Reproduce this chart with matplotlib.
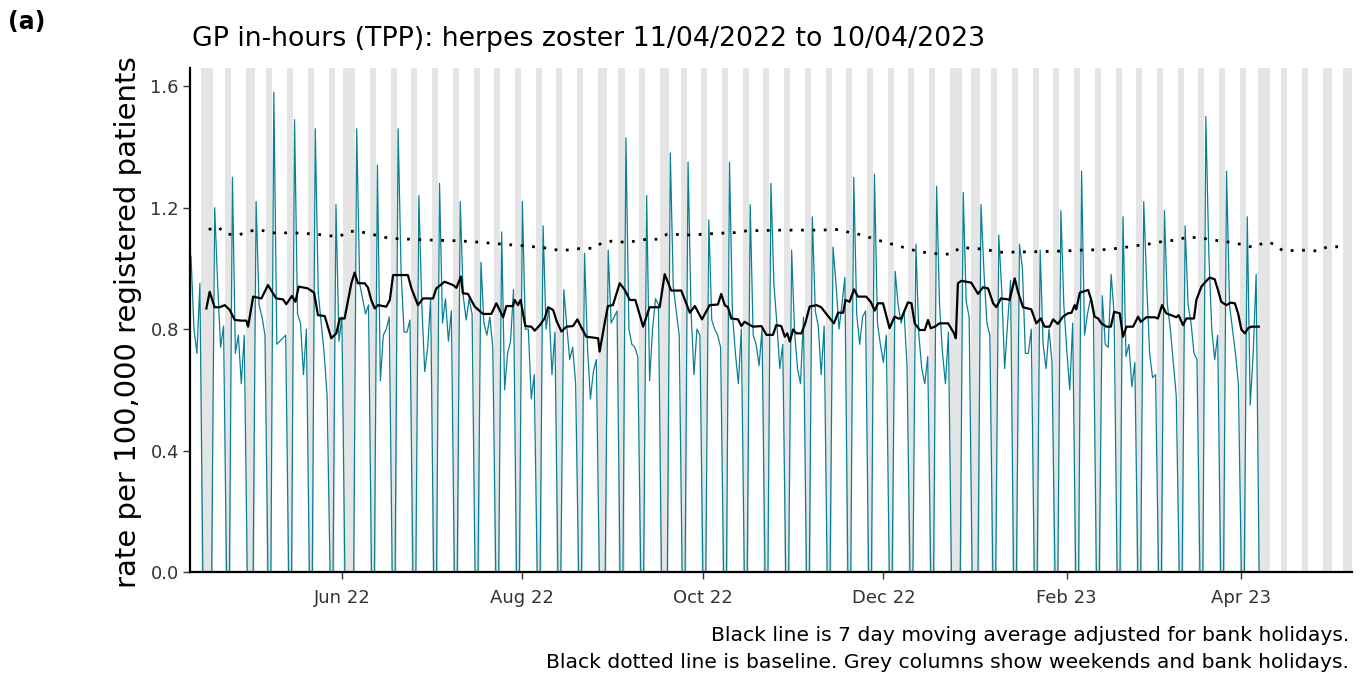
import numpy as np
import pandas as pd
import matplotlib
matplotlib.use("Agg")
import matplotlib.pyplot as plt
import matplotlib.dates as mdates

plt.rcParams['font.family'] = ['DejaVu Sans']

start = pd.Timestamp('2022-04-11')
end = pd.Timestamp('2023-04-10')
shade_end = pd.Timestamp('2023-05-08')

bank_holidays = pd.to_datetime([
    '2022-04-15', '2022-04-18', '2022-05-02', '2022-06-02', '2022-06-03',
    '2022-08-29', '2022-09-19', '2022-12-26', '2022-12-27', '2023-01-02',
    '2023-04-07', '2023-04-10', '2023-05-01', '2023-05-08',
])

# daily rate on working days, one list per week (weekends / bank holidays are 0)
weekly_rates = [
    [1.04, 0.80, 0.72, 0.95],
    [1.20, 0.95, 0.74, 0.81],
    [1.30, 0.72, 0.78, 0.62, 0.78],
    [1.22, 0.88, 0.84, 0.78],
    [1.58, 0.75, 0.76, 0.77, 0.78],
    [1.49, 0.85, 0.82, 0.65, 0.80],
    [1.46, 0.92, 0.82, 0.72, 0.58],
    [1.21, 0.76, 0.84],
    [1.46, 0.95, 0.90, 0.85, 0.88],
    [1.34, 0.63, 0.78, 0.80, 0.84],
    [1.46, 0.99, 0.79, 0.79, 0.83],
    [1.24, 0.88, 0.66, 0.74, 0.90],
    [1.28, 0.82, 0.90, 0.76, 0.86],
    [1.22, 0.91, 0.83, 0.90, 0.85],
    [1.02, 0.82, 0.78, 0.84, 0.74],
    [1.12, 0.60, 0.72, 0.76, 0.93],
    [1.22, 0.80, 0.80, 0.57, 0.65],
    [1.14, 0.80, 0.87, 0.65, 0.79],
    [0.93, 0.81, 0.70, 0.74, 0.62],
    [1.05, 0.74, 0.57, 0.66, 0.70],
    [1.06, 0.82, 0.84, 0.86],
    [1.43, 0.80, 0.75, 0.74, 0.71],
    [1.24, 0.63, 0.80, 0.90, 0.88],
    [1.38, 0.94, 0.86, 0.78],
    [1.35, 0.86, 0.65, 0.80, 0.78],
    [1.16, 0.83, 0.80, 0.78, 0.74],
    [1.35, 0.85, 0.72, 0.62, 0.80],
    [1.21, 0.78, 0.75, 0.68, 0.80],
    [1.28, 0.95, 0.82, 0.67, 0.75],
    [1.06, 0.79, 0.67, 0.62, 0.84],
    [1.17, 0.86, 0.81, 0.65, 0.81],
    [1.07, 0.95, 0.80, 0.88, 0.97],
    [1.30, 0.85, 0.75, 0.84, 0.86],
    [1.31, 0.82, 0.75, 0.69, 0.78],
    [0.99, 0.88, 0.82, 0.86, 0.68],
    [1.08, 0.78, 0.67, 0.62, 0.71],
    [1.27, 0.88, 0.72, 0.62, 0.79],
    [1.25, 0.89, 0.84],
    [1.21, 0.99, 0.82, 0.78],
    [1.11, 0.93, 0.67, 0.82, 0.96],
    [1.08, 1.00, 0.72, 0.72, 0.80],
    [1.06, 0.75, 0.67, 0.80, 0.69],
    [1.19, 0.88, 0.73, 0.60, 0.82],
    [1.32, 0.78, 0.85, 0.90, 0.85],
    [0.91, 0.75, 0.74, 0.98, 0.85],
    [1.17, 0.71, 0.75, 0.61, 0.69],
    [1.22, 0.95, 0.72, 0.64, 0.65],
    [1.19, 0.88, 0.80, 0.69, 0.58],
    [1.14, 0.88, 0.82, 0.72, 0.70],
    [1.50, 1.05, 0.80, 0.70, 0.78],
    [1.32, 0.88, 0.80, 0.72, 0.62],
    [1.17, 0.55, 0.72, 0.98],
]

# baseline (days after start)
baseline_day = [6, 9, 12, 16, 20, 23, 27, 35, 42, 50,
                53, 56, 60, 67, 74, 82, 90, 98, 105, 113,
                121, 125, 132, 136, 139, 143, 147, 154, 158, 161,
                169, 177, 184, 188, 200, 212, 219, 223, 227, 231,
                234, 238, 242, 246, 253, 257, 260, 267, 271, 274,
                286, 294, 301, 309, 313, 317, 321, 325, 329, 333,
                336, 340, 344, 348, 352, 356, 359, 363, 366, 369,
                377, 381, 384, 390]
baseline_rate = [1.128, 1.137, 1.113, 1.110, 1.123, 1.128, 1.117, 1.117, 1.113, 1.104,
                 1.121, 1.123, 1.115, 1.099, 1.096, 1.093, 1.091, 1.086, 1.080, 1.074,
                 1.066, 1.058, 1.066, 1.066, 1.085, 1.091, 1.085, 1.096, 1.096, 1.113,
                 1.110, 1.115, 1.118, 1.124, 1.126, 1.126, 1.128, 1.117, 1.110, 1.096,
                 1.088, 1.077, 1.066, 1.055, 1.047, 1.047, 1.069, 1.064, 1.058, 1.053,
                 1.055, 1.057, 1.060, 1.062, 1.066, 1.071, 1.077, 1.082, 1.090, 1.093,
                 1.101, 1.102, 1.096, 1.090, 1.085, 1.077, 1.069, 1.086, 1.081, 1.058,
                 1.060, 1.057, 1.071, 1.071]

# 7 day moving average (days after start)
ma_day = [5.2, 6.3, 8.0, 9.7, 11.4, 13.1, 14.8, 17.0, 18.7, 19.3,
          21.0, 23.8, 26.0, 28.8, 31.1, 32.2, 34.1, 35.3, 36.4, 39.5,
          41.6, 42.9, 45.2, 47.4, 49.1, 50.3, 51.9, 54.2, 55.3, 56.4,
          58.7, 59.8, 60.9, 62.1, 63.2, 66.0, 67.2, 68.3, 73.3, 74.5,
          76.7, 78.4, 81.8, 82.9, 85.7, 88.6, 89.7, 91.2, 91.9, 93.6,
          95.9, 98.7, 101.5, 103.2, 105.5, 106.6, 108.8, 109.4, 110.5, 111.4,
          113.0, 115.0, 116.2, 117.9, 119.5, 120.7, 122.4, 123.5, 125.2, 126.9,
          129.1, 130.6, 131.9, 133.6, 137.6, 138.1, 139.8, 140.9, 142.6, 144.9,
          146.6, 148.3, 150.2, 152.8, 155.0, 158.4, 160.1, 162.3, 165.7, 168.6,
          170.3, 172.7, 175.3, 178.1, 179.2, 180.4, 181.5, 182.6, 184.9, 186.0,
          187.1, 189.9, 192.8, 194.5, 196.7, 197.8, 199.5, 200.7, 201.5, 202.4,
          203.5, 204.6, 206.3, 207.6, 209.1, 211.4, 213.0, 215.3, 217.3, 218.7,
          220.4, 221.2, 222.6, 224.1, 225.4, 228.2, 229.7, 231.1, 232.2, 233.9,
          236.1, 237.8, 239.0, 240.1, 242.3, 243.5, 244.6, 246.3, 248.0, 249.1,
          250.0, 251.4, 253.0, 255.9, 257.9, 258.5, 259.2, 260.4, 263.7, 266.0,
          267.7, 269.4, 271.1, 272.2, 273.7, 276.1, 276.7, 278.4, 279.5, 281.2,
          284.0, 285.7, 287.2, 288.5, 290.2, 291.4, 293.0, 294.7, 296.4, 297.6,
          298.7, 299.2, 300.4, 303.2, 304.3, 305.4, 306.6, 307.7, 309.4, 310.9,
          312.0, 313.9, 315.0, 316.2, 318.4, 320.1, 321.0, 322.9, 325.7, 326.8,
          328.2, 329.6, 331.3, 333.0, 333.8, 335.3, 336.4, 339.0, 339.8, 341.5,
          343.2, 344.3, 346.0, 347.1, 348.2, 349.9, 351.4, 352.8, 353.9, 355.0,
          356.2, 357.3, 358.4, 360.9]
ma_rate = [0.868, 0.923, 0.872, 0.872, 0.879, 0.863, 0.830, 0.828, 0.828, 0.808,
           0.907, 0.901, 0.945, 0.901, 0.898, 0.882, 0.909, 0.890, 0.940, 0.934,
           0.920, 0.846, 0.843, 0.770, 0.786, 0.835, 0.835, 0.951, 0.986, 0.951,
           0.951, 0.937, 0.896, 0.868, 0.879, 0.874, 0.896, 0.978, 0.978, 0.934,
           0.879, 0.901, 0.901, 0.934, 0.956, 0.945, 0.936, 0.973, 0.918, 0.916,
           0.874, 0.850, 0.850, 0.885, 0.839, 0.876, 0.876, 0.896, 0.879, 0.896,
           0.810, 0.808, 0.795, 0.813, 0.835, 0.872, 0.863, 0.828, 0.792, 0.808,
           0.810, 0.832, 0.806, 0.775, 0.770, 0.726, 0.819, 0.876, 0.879, 0.951,
           0.929, 0.896, 0.896, 0.808, 0.872, 0.872, 0.981, 0.927, 0.927, 0.854,
           0.876, 0.832, 0.879, 0.881, 0.916, 0.879, 0.872, 0.835, 0.832, 0.810,
           0.824, 0.808, 0.810, 0.781, 0.781, 0.813, 0.810, 0.775, 0.786, 0.759,
           0.799, 0.786, 0.786, 0.819, 0.874, 0.879, 0.872, 0.843, 0.819, 0.854,
           0.854, 0.896, 0.890, 0.931, 0.907, 0.907, 0.890, 0.861, 0.885, 0.885,
           0.803, 0.841, 0.835, 0.835, 0.888, 0.885, 0.819, 0.797, 0.797, 0.830,
           0.803, 0.808, 0.819, 0.819, 0.786, 0.770, 0.951, 0.959, 0.953, 0.916,
           0.938, 0.934, 0.885, 0.872, 0.901, 0.898, 0.896, 0.967, 0.923, 0.872,
           0.865, 0.819, 0.835, 0.808, 0.808, 0.832, 0.817, 0.841, 0.852, 0.854,
           0.879, 0.865, 0.920, 0.929, 0.896, 0.841, 0.835, 0.819, 0.808, 0.808,
           0.857, 0.852, 0.775, 0.808, 0.808, 0.841, 0.824, 0.839, 0.839, 0.835,
           0.879, 0.852, 0.846, 0.839, 0.846, 0.813, 0.835, 0.835, 0.896, 0.940,
           0.959, 0.970, 0.964, 0.929, 0.890, 0.879, 0.887, 0.885, 0.852, 0.799,
           0.786, 0.803, 0.808, 0.808]

x_ticks = pd.to_datetime(['2022-06-01', '2022-08-01', '2022-10-01',
                          '2022-12-01', '2023-02-01', '2023-04-01'])
x_labels = ['Jun 22', 'Aug 22', 'Oct 22', 'Dec 22', 'Feb 23', 'Apr 23']

days = pd.date_range(start, end)
closed = (days.weekday >= 5) | days.isin(bank_holidays)
rate = np.zeros(len(days))
rate[~closed] = np.concatenate(weekly_rates)

shade_days = pd.date_range(start, shade_end)
shade_days = shade_days[(shade_days.weekday >= 5) | shade_days.isin(bank_holidays)]

fig = plt.figure(figsize=(13.62, 6.74), dpi=100)
ax = fig.add_axes([190 / 1362, 1 - 572 / 674, (1352 - 190) / 1362, (572 - 68) / 674])

ax.plot(days, rate, color='#0a8095', lw=0.9, zorder=2)

# grey columns for weekends and bank holidays
for d in mdates.date2num(shade_days.to_pydatetime()):
    ax.axvspan(d - 0.52, d + 0.52, color='#e5e5e5', lw=0, zorder=0)

ax.plot(start + pd.to_timedelta(baseline_day, unit='D'), baseline_rate,
        color='black', lw=2, ls=(0, (1, 3.1)), zorder=3)
ax.plot(start + pd.to_timedelta(ma_day, unit='D'), ma_rate,
        color='black', lw=1.6, zorder=4)

x0 = mdates.date2num(start.to_pydatetime())
ax.set_xlim(x0 - 0.34, x0 + 392.4)
ax.set_ylim(0, 1.66)
ax.set_yticks([0, 0.4, 0.8, 1.2, 1.6])
ax.yaxis.set_major_formatter(plt.FormatStrFormatter('%.1f'))
ax.set_xticks(mdates.date2num(x_ticks.to_pydatetime()), x_labels)
for lbl in ax.get_xticklabels():
    lbl.set_verticalalignment('baseline')

for s in ['top', 'right']:
    ax.spines[s].set_visible(False)
for s in ['left', 'bottom']:
    ax.spines[s].set_linewidth(1.6)
    ax.spines[s].set_color('black')
ax.tick_params(direction='out', length=5, width=1, color='#333333',
               labelsize=13, labelcolor='#333333')
ax.tick_params(axis='x', pad=17.5)
ax.tick_params(axis='y', pad=3)

fig.text(8 / 1362, 1 - 29 / 674, '(a)', fontsize=17, fontweight='bold', va='baseline')
fig.text(192 / 1362, 1 - 46 / 674, 'GP in-hours (TPP): herpes zoster 11/04/2022 to 10/04/2023',
         fontsize=19.3, va='baseline')
fig.text(128 / 1362, 1 - 322 / 674, 'rate per 100,000 registered patients',
         fontsize=21, rotation=90, ha='center', va='center')
fig.text(1349 / 1362, 1 - 641 / 674, 'Black line is 7 day moving average adjusted for bank holidays.',
         fontsize=14.6, ha='right', va='baseline')
fig.text(1349 / 1362, 1 - 668 / 674, 'Black dotted line is baseline. Grey columns show weekends and bank holidays.',
         fontsize=14.6, ha='right', va='baseline')

fig.savefig('out.png', dpi=100)
